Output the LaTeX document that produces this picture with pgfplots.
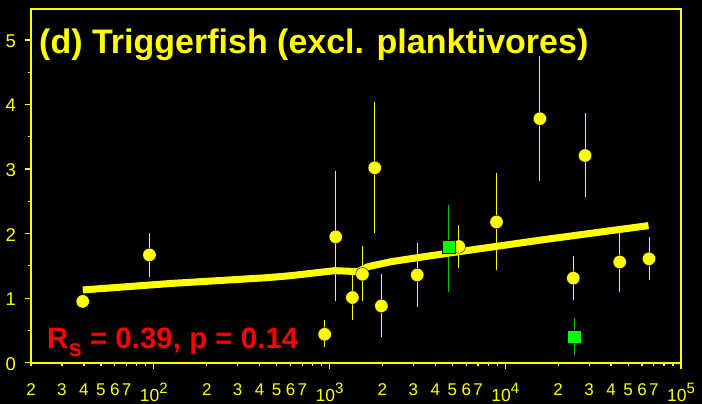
\documentclass[border=0pt]{standalone}
\usepackage{fontspec}
\setmainfont{Liberation Sans}
\usepackage{pgfplots}
\pgfplotsset{compat=1.18}
\definecolor{yel}{RGB}{255,255,0}
\definecolor{grn}{RGB}{0,255,0}
\definecolor{grnbar}{RGB}{0,200,0}
\definecolor{redtxt}{RGB}{255,0,0}
\newcommand{\dec}[1]{\fontsize{17.5bp}{18bp}\selectfont 10\raisebox{8.3bp}{\fontsize{15bp}{15bp}\selectfont #1}}
\begin{document}
\begin{tikzpicture}
\path[fill=black, use as bounding box] (-31bp,-41.3bp) rectangle (671bp,362.7bp);
\begin{axis}[
  scale only axis, width=650bp, height=353.7bp,
  at={(0,0)}, anchor=south west,
  xmode=log, xmin=20, xmax=100000, ymin=0, ymax=5.48,
  axis line style={yel, line width=2bp},
  every tick/.style={yel, line width=1.2bp},
  tick align=outside, tick pos=left,
  major tick length=6.5bp, minor tick length=3.5bp,
  xtick={100,1000,10000,100000},
  xticklabels={\dec{2},\dec{3},\dec{4},\dec{5}},
  xticklabel style={text=yel, anchor=base, yshift=-32.5bp, inner sep=0pt},
  minor xtick={80,90,800,900,8000,9000,80000,90000},
  extra x ticks={20,30,40,50,60,70,200,300,400,500,600,700,2000,3000,4000,5000,6000,7000,20000,30000,40000,50000,60000,70000},
  extra x tick labels={2,3,4,5,6,7,2,3,4,5,6,7,2,3,4,5,6,7,2,3,4,5,6,7},
  extra x tick style={major tick length=3.5bp, xticklabel style={font=\fontsize{17bp}{18bp}\selectfont, yshift=3.5bp}},
  ytick={0,1,2,3,4,5}, yticklabels={0,1,2,3,4,5},
  minor ytick={0.5,1.5,2.5,3.5,4.5},
  yticklabel style={text=yel, font=\fontsize{18.5bp}{19bp}\selectfont, xshift=-5bp, yshift=-1bp},
  clip=false,
]
\addplot[only marks, mark=*, mark size=6.7bp, mark options={fill=yel, draw=none},
  error bars/.cd, y dir=both, y explicit, error mark=none,
  error bar style={yel, line width=1bp}]
  coordinates {
  (39.4,0.95) += (0,0) -= (0,0)
  (94.4,1.67) += (0,0.34) -= (0,0.34)
  (938,0.44) += (0,0.22) -= (0,0.19)
  (1084,1.95) += (0,1.02) -= (0,1.0)
  (1349,1.01) += (0,0.35) -= (0,0.35)
  (1538,1.37) += (0,0.44) -= (0,0.42)
  (1807,3.02) += (0,1.02) -= (0,1.01)
  (1973,0.88) += (0,0.49) -= (0,0.48)
  (3155,1.36) += (0,0.5) -= (0,0.5)
  (5445,1.80) += (0,0.335) -= (0,0.33)
  (8914,2.18) += (0,0.76) -= (0,0.75)
  (15740,3.78) += (0,0.97) -= (0,0.97)
  (28450,3.21) += (0,0.66) -= (0,0.64)
  (24380,1.31) += (0,0.35) -= (0,0.34)
  (44770,1.56) += (0,0.46) -= (0,0.47)
  (65770,1.61) += (0,0.33) -= (0,0.33)
  };
\addplot[only marks, mark=square*, mark size=6.7bp, mark options={fill=grn, draw=none},
  error bars/.cd, y dir=both, y explicit, error mark=none,
  error bar style={grnbar, line width=1bp}]
  coordinates {
  (4775,1.80) += (0,0.65) -= (0,0.70)
  (24710,0.40) += (0,0.30) -= (0,0.28)
  };
\addplot[yel, line width=7bp, line join=round, mark=none]
  coordinates {
  (39.4,1.127) (125.5,1.228) (446,1.318) (605,1.349) (1069,1.426)
  (1452,1.411) (1656,1.488) (2248,1.566) (3801,1.659) (16100,1.902) (65300,2.124)
  };
\node[anchor=base west, inner sep=0pt, text=yel, font=\bfseries\fontsize{34bp}{40bp}\selectfont, xshift=8bp, yshift=-44.3bp] at (rel axis cs:0,1) {(d) Triggerfish (excl. planktivores)};
\node[anchor=base west, inner sep=0pt, text=redtxt, font=\bfseries\fontsize{29.5bp}{34bp}\selectfont, xshift=16bp, yshift=14.4bp] at (rel axis cs:0,0) {R\raisebox{-8.4bp}{\fontsize{24bp}{24bp}\selectfont s} = 0.39, p = 0.14};
\end{axis}
\end{tikzpicture}
\end{document}
